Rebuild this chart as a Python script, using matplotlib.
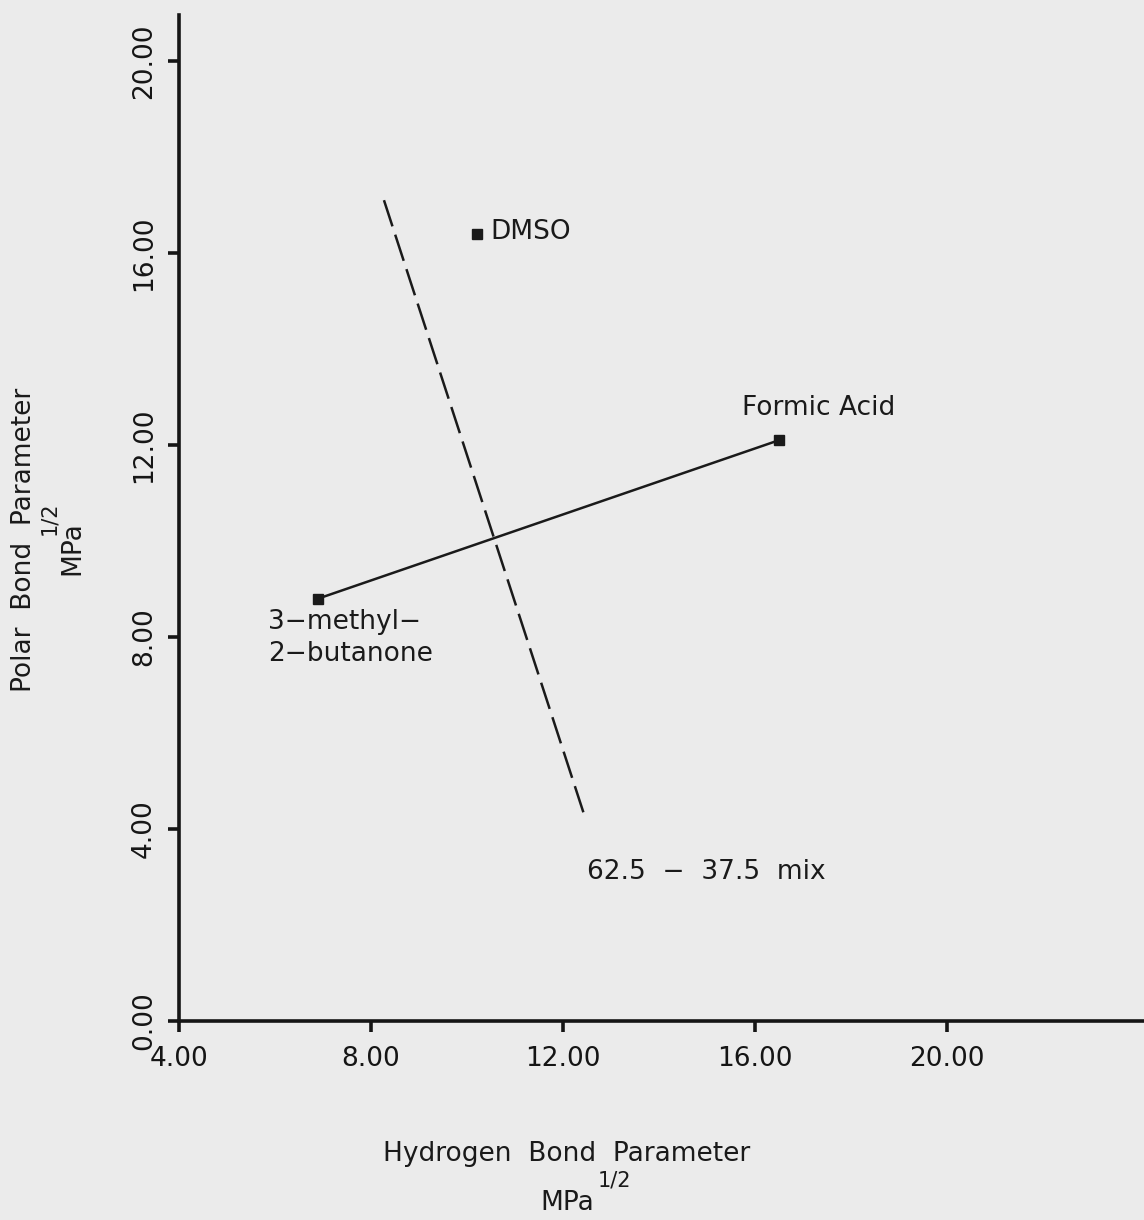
import matplotlib
matplotlib.use("Agg")
import matplotlib.pyplot as plt

# ---- data ----
solvents = ["DMSO", "Formic Acid", "3-methyl-2-butanone"]
hydrogen = [10.2, 16.5, 6.9]
polar = [16.4, 12.1, 8.8]
# tie line between the two mixed solvents
tie_h = [6.9, 16.5]
tie_p = [8.8, 12.1]
# dashed line through the mix point
mix_h = [8.27, 12.44]
mix_p = [17.1, 4.3]
mix_label = "62.5  \u2212  37.5  mix"
xticks = [4, 8, 12, 16, 20]
yticks = [0, 4, 8, 12, 16, 20]

W, H = 1144, 1220
fig = plt.figure(figsize=(W / 100, H / 100), dpi=100, facecolor="#ebebeb")
ax = fig.add_axes([179 / W, 1 - 1021 / H, 1 - 179 / W, (1021 - 15) / H])
ax.set_facecolor("none")
ax.set_xlim(4, 4 + (W - 179) / 48)
ax.set_ylim(0, (1021 - 15) / 48)

for s in ["top", "right"]:
    ax.spines[s].set_visible(False)
for s in ["left", "bottom"]:
    ax.spines[s].set_linewidth(2.6)
    ax.spines[s].set_color("#151515")

ax.set_xticks(xticks)
ax.set_xticklabels([f"{v:.2f}" for v in xticks])
ax.set_yticks(yticks)
ax.set_yticklabels([f"{v:.2f}" for v in yticks], rotation=90, va="center")
ax.tick_params(axis="both", direction="out", length=8, width=2.6, colors="#151515",
               labelsize=19, pad=8)
ax.tick_params(axis="x", pad=10)

ink = "#1a1a1a"
ax.plot(tie_h, tie_p, color=ink, lw=1.8, zorder=2)
ax.plot(mix_h, mix_p, color=ink, lw=1.8, dashes=(11, 3.5), zorder=2)
ax.plot(hydrogen, polar, ls="none", marker="s", ms=6.5, color=ink, zorder=3)

fs = 19
ax.text(10.48, 16.44, "DMSO", fontsize=fs, color=ink, ha="left", va="center")
ax.text(15.73, 12.77, "Formic Acid", fontsize=fs, color=ink, ha="left", va="center")
ax.text(5.85, 7.98, "3\u2212methyl\u2212\n2\u2212butanone", fontsize=fs, color=ink,
        ha="left", va="center", linespacing=1.3)
ax.text(12.5, 3.1, mix_label, fontsize=fs, color=ink, ha="left", va="center")

def ftext(px, py, s, **kw):
    fig.text(px / W, 1 - py / H, s, color=ink, **kw)

ftext(567, 1154, "Hydrogen  Bond  Parameter", fontsize=19, ha="center", va="center")
ftext(567, 1203, "MPa", fontsize=19, ha="center", va="center")
ftext(614, 1180, "1/2", fontsize=15, ha="center", va="center")

ftext(24, 540, "Polar  Bond  Parameter", fontsize=19, ha="center", va="center", rotation=90)
ftext(72, 548, "MPa", fontsize=19, ha="center", va="center", rotation=90)
ftext(49, 518, "1/2", fontsize=15, ha="center", va="center", rotation=90)

fig.savefig("out.png", dpi=100, facecolor=fig.get_facecolor())
